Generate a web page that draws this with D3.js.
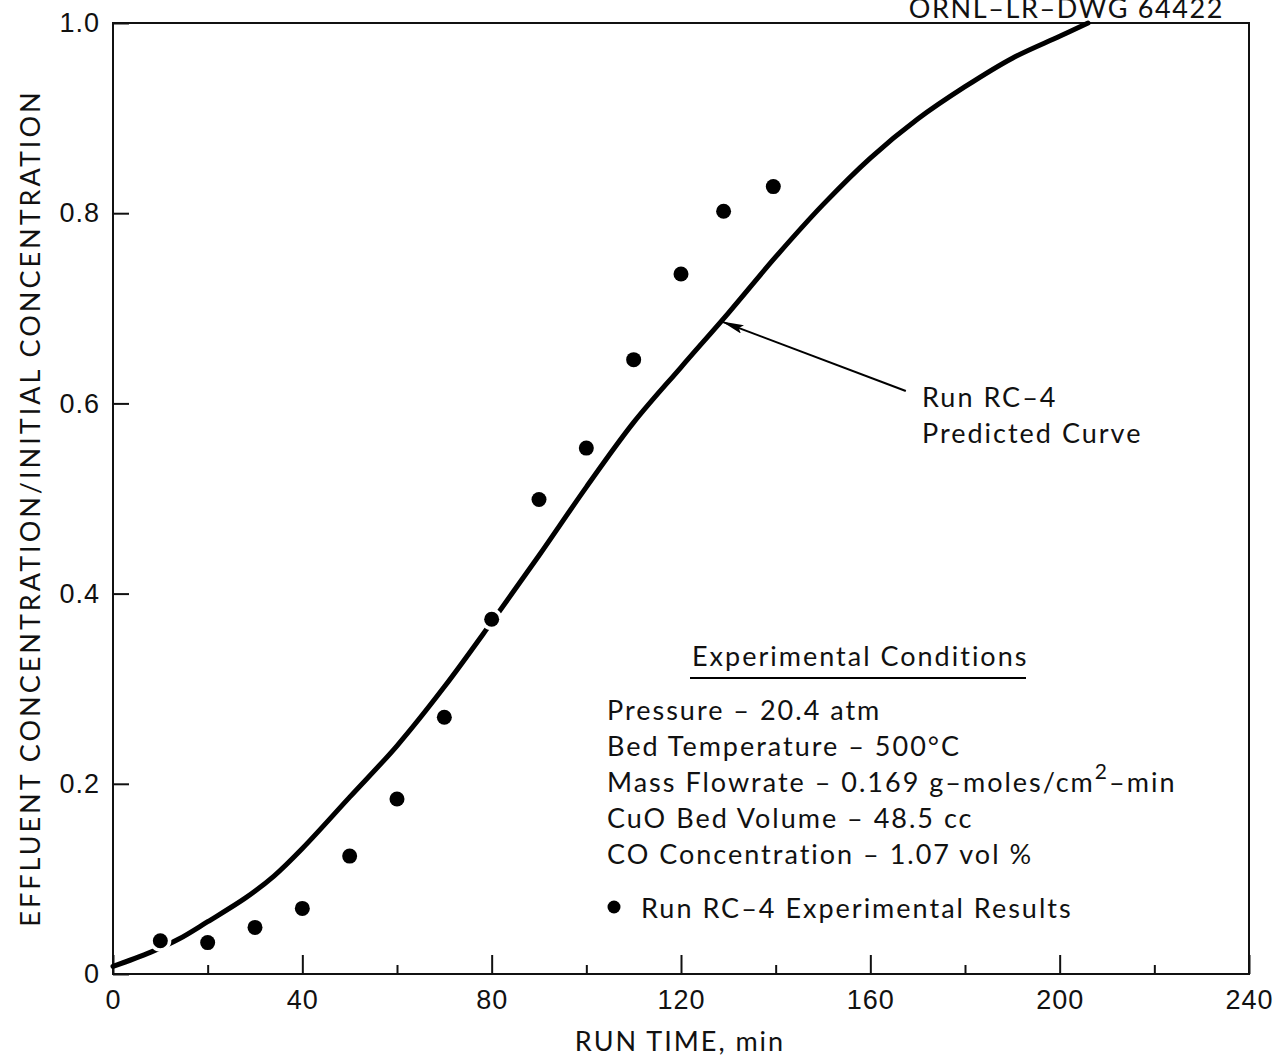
<!DOCTYPE html>
<html>
<head>
<meta charset="utf-8">
<script src="https://cdn.jsdelivr.net/npm/d3@7"></script>
<style>
  body { margin: 0; background: #fff; }
  svg { font-family: Lato, "DejaVu Sans", sans-serif; }
  text { fill: #111; }
</style>
</head>
<body>
<svg id="chart" width="1273" height="1058"></svg>
<script>
// experimental points (run time, min / concentration ratio)
const expTime = [10, 20, 30, 40, 50, 60, 70, 80, 90, 100, 110, 120, 129, 139.5];
const expConc = [0.035, 0.033, 0.049, 0.069, 0.124, 0.184, 0.270, 0.373, 0.499, 0.553, 0.646, 0.736, 0.802, 0.828];

// predicted curve
const curveTime = [0, 8, 14, 20, 28, 34, 40, 50, 60, 70, 80, 90, 100, 110, 120, 130, 140, 150, 160, 170, 180, 190, 200, 206];
const curveConc = [0.008, 0.023, 0.037, 0.055, 0.080, 0.103, 0.132, 0.186, 0.240, 0.302, 0.370, 0.440, 0.512, 0.580, 0.638, 0.695, 0.754, 0.809, 0.858, 0.899, 0.933, 0.963, 0.986, 1.0];

const xMajor = [0, 40, 80, 120, 160, 200, 240];
const xMinor = [20, 60, 100, 140, 180, 220];
const yTicks = [0, 0.2, 0.4, 0.6, 0.8, 1.0];
const yLabels = ['0', '0.2', '0.4', '0.6', '0.8', '1.0'];

const conditions = [
  'Pressure \u2013 20.4 atm',
  'Bed Temperature \u2013 500\u00b0C',
  'Mass Flowrate \u2013 0.169 g\u2013moles/cm',
  'CuO Bed Volume \u2013 48.5 cc',
  'CO Concentration \u2013 1.07 vol %'
];

const svg = d3.select('#chart');

const x = d3.scaleLinear().domain([0, 240]).range([113, 1249]);
const y = d3.scaleLinear().domain([0, 1]).range([974, 23]);

const FS = 27;
const LS = 2;

// frame
svg.append('rect')
  .attr('x', x(0)).attr('y', y(1))
  .attr('width', x(240) - x(0)).attr('height', y(0) - y(1))
  .attr('fill', 'none').attr('stroke', '#111').attr('stroke-width', 2);

// x axis, ticks pointing inward
const xAxis = d3.axisBottom(x).tickValues(xMajor).tickSize(-19).tickPadding(16)
  .tickFormat(d3.format('d'));
const gx = svg.append('g').attr('transform', `translate(0,${y(0)})`).call(xAxis);
gx.select('.domain').remove();
gx.selectAll('line').attr('stroke', '#111').attr('stroke-width', 2);
gx.selectAll('text').attr('font-size', FS).attr('fill', '#111').attr('dy', '0.72em')
  .attr('letter-spacing', 1);

const xAxisMinor = d3.axisBottom(x).tickValues(xMinor).tickSize(-9).tickFormat('');
const gxm = svg.append('g').attr('transform', `translate(0,${y(0)})`).call(xAxisMinor);
gxm.select('.domain').remove();
gxm.selectAll('line').attr('stroke', '#111').attr('stroke-width', 2);

// y axis
const yAxis = d3.axisLeft(y).tickValues(yTicks).tickSize(-16).tickPadding(13)
  .tickFormat((d, i) => yLabels[i]);
const gy = svg.append('g').attr('transform', `translate(${x(0)},0)`).call(yAxis);
gy.select('.domain').remove();
gy.selectAll('line').attr('stroke', '#111').attr('stroke-width', 2);
gy.selectAll('text').attr('font-size', FS).attr('fill', '#111').attr('letter-spacing', 1);

// axis titles
svg.append('text')
  .attr('x', 680).attr('y', 1051)
  .attr('text-anchor', 'middle').attr('font-size', FS).attr('letter-spacing', LS)
  .text('RUN TIME, min');

svg.append('text')
  .attr('transform', 'translate(40,508) rotate(-90)')
  .attr('text-anchor', 'middle').attr('font-size', FS).attr('letter-spacing', 3)
  .text('EFFLUENT CONCENTRATION/INITIAL CONCENTRATION');

svg.append('text')
  .attr('x', 1224).attr('y', 18)
  .attr('text-anchor', 'end').attr('font-size', FS).attr('letter-spacing', 1.6)
  .text('ORNL\u2013LR\u2013DWG 64422');

// predicted curve
const curveData = curveTime.map((t, i) => [t, curveConc[i]]);
svg.append('path')
  .datum(curveData)
  .attr('fill', 'none').attr('stroke', '#000').attr('stroke-width', 5)
  .attr('stroke-linecap', 'round')
  .attr('d', d3.line().x(d => x(d[0])).y(d => y(d[1])).curve(d3.curveCatmullRom));

// experimental points, a white halo breaks the curve where it crosses
const pts = expTime.map((t, i) => [t, expConc[i]]);
svg.selectAll('.halo')
  .data(pts)
  .enter().append('circle')
  .attr('class', 'halo')
  .attr('cx', d => x(d[0])).attr('cy', d => y(d[1]))
  .attr('r', 11).attr('fill', '#fff');
svg.selectAll('.pt')
  .data(pts)
  .enter().append('circle')
  .attr('class', 'pt')
  .attr('cx', d => x(d[0])).attr('cy', d => y(d[1]))
  .attr('r', 7.5).attr('fill', '#000');

// annotation arrow
const tip = [128, 0.686];
const tail = [167.5, 0.613];
svg.append('defs').append('marker')
  .attr('id', 'arrow').attr('viewBox', '0 0 22 9')
  .attr('refX', 22).attr('refY', 4.5)
  .attr('markerWidth', 22).attr('markerHeight', 9)
  .attr('markerUnits', 'userSpaceOnUse')
  .attr('orient', 'auto')
  .append('path').attr('d', 'M0,0 L22,4.5 L0,9 L4,4.5 Z').attr('fill', '#000');
svg.append('line')
  .attr('x1', x(tail[0])).attr('y1', y(tail[1]))
  .attr('x2', x(tip[0]) + 3).attr('y2', y(tip[1]))
  .attr('stroke', '#000').attr('stroke-width', 2)
  .attr('marker-end', 'url(#arrow)');

svg.append('text').attr('x', 922).attr('y', 407).attr('font-size', FS).attr('letter-spacing', LS)
  .text('Run RC\u20134');
svg.append('text').attr('x', 922).attr('y', 443).attr('font-size', FS).attr('letter-spacing', LS)
  .text('Predicted Curve');

// legend / conditions block
svg.append('text')
  .attr('x', 692).attr('y', 666).attr('font-size', FS).attr('letter-spacing', LS)
  .text('Experimental Conditions');
svg.append('line')
  .attr('x1', 690).attr('x2', 1026).attr('y1', 678).attr('y2', 678)
  .attr('stroke', '#000').attr('stroke-width', 2);

const cond = svg.selectAll('.cond')
  .data(conditions)
  .enter().append('text')
  .attr('class', 'cond')
  .attr('x', 607).attr('y', (d, i) => 720 + i * 36)
  .attr('font-size', FS).attr('letter-spacing', LS)
  .text(d => d);
cond.filter((d, i) => i === 2)
  .append('tspan').attr('dy', -13).attr('font-size', 21).text('2');
cond.filter((d, i) => i === 2)
  .append('tspan').attr('dy', 13).text('\u2013min');

svg.append('circle').attr('cx', 614).attr('cy', 907).attr('r', 6.5).attr('fill', '#000');
svg.append('text').attr('x', 641).attr('y', 918).attr('font-size', FS).attr('letter-spacing', LS)
  .text('Run RC\u20134 Experimental Results');
</script>
</body>
</html>
